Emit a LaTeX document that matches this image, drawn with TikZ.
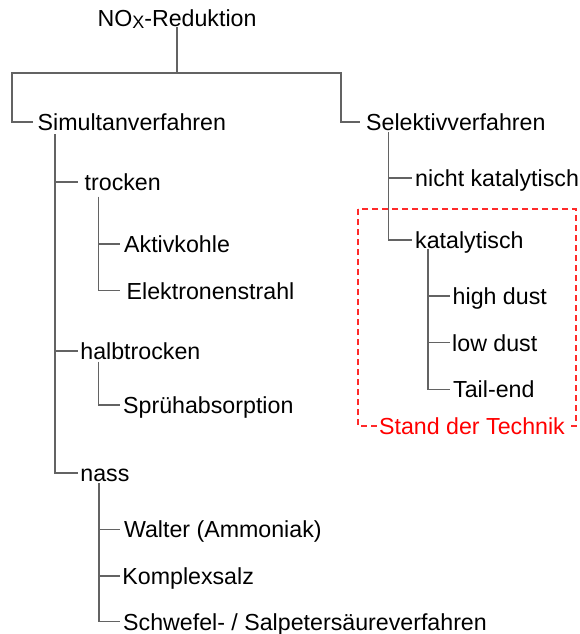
\documentclass[tikz,border=0pt]{standalone}
\usepackage{fontspec}
\setmainfont{Liberation Sans}
\begin{document}
\definecolor{linegray}{HTML}{636363}
\definecolor{boxred}{HTML}{FF2A2A}
\begin{tikzpicture}[x=1pt,y=-1pt,
  lbl/.style={anchor=west, inner ysep=0pt, inner xsep=3.5pt,
    text height=16.6pt, text depth=0pt,
    font=\fontsize{23.2pt}{28pt}\selectfont},
  branch/.style={draw=linegray, line width=1.25pt},
  redbox/.style={draw=boxred, line width=1.2pt, dash pattern=on 6pt off 4pt},
  redlbl/.style={lbl, anchor=center, text=red, fill=white, inner xsep=2.5pt}]
\useasboundingbox (0,0) rectangle (579,634);

% root
\node[lbl, anchor=center, inner xsep=0pt] (title) at (177,18.5)
  {NO\raisebox{-1.3pt}{\fontsize{18pt}{18pt}\selectfont X}-Reduktion};
\coordinate (jl) at (12,73);
\coordinate (jm) at (177,73);
\coordinate (jr) at (341,73);

% first level
\node[lbl, inner xsep=4.5pt] (sim) at (33,122) {Simultanverfahren};
\node[lbl, inner xsep=6pt] (sel) at (360,122) {Selektivverfahren};

% Simultanverfahren
\node[lbl, inner xsep=7pt] (troc) at (77.5,182) {trocken};
\node[lbl, inner xsep=4pt] (akt) at (120,244) {Aktivkohle};
\node[lbl, inner xsep=6.5pt] (elek) at (120,290.7) {Elektronenstrahl};
\node[lbl, inner xsep=2.7pt] (halb) at (77.5,351) {halbtrocken};
\node[lbl, inner xsep=3pt] (spr) at (120,405) {Sprühabsorption};
\node[lbl, inner xsep=2.2pt] (nass) at (78,473) {nass};
\node[lbl, inner xsep=3.8pt] (walt) at (120,529.3) {Walter (Ammoniak)};
\node[lbl, inner xsep=2.2pt] (komp) at (120,576) {Komplexsalz};
\node[lbl, inner xsep=3pt] (schw) at (120,621.7) {Schwefel- / Salpetersäureverfahren};

% Selektivverfahren
\node[lbl] (nk) at (411.5,178) {nicht katalytisch};
\node[lbl] (kat) at (411.5,240) {katalytisch};
\node[lbl, inner xsep=2.5pt] (hd) at (450,296) {high dust};
\node[lbl, inner xsep=2pt] (ld) at (450,342.7) {low dust};
\node[lbl, inner xsep=3pt] (te) at (450,389.3) {Tail-end};

% trunk tops
\coordinate (simt) at (55,134);
\coordinate (trot) at (98.5,196.7);
\coordinate (halt) at (98.5,361.7);
\coordinate (nast) at (99,483);
\coordinate (selt) at (388.5,132);
\coordinate (katt) at (428,249);

% connectors
\draw[branch] (title.south) -- (jm);
\draw[branch] (sim.west) -| (jl) -- (jr) |- (sel.west);

\draw[branch] (simt) |- (nass.west);
\draw[branch] (troc.west) -- (troc.west -| simt);
\draw[branch] (halb.west) -- (halb.west -| simt);

\draw[branch] (trot) |- (elek.west);
\draw[branch] (akt.west) -- (akt.west -| trot);
\draw[branch] (halt) |- (spr.west);
\draw[branch] (nast) |- (schw.west);
\draw[branch] (walt.west) -- (walt.west -| nast);
\draw[branch] (komp.west) -- (komp.west -| nast);

\draw[branch] (selt) |- (kat.west);
\draw[branch] (nk.west) -- (nk.west -| selt);
\draw[branch] (katt) |- (te.west);
\draw[branch] (hd.west) -- (hd.west -| katt);
\draw[branch] (ld.west) -- (ld.west -| katt);

% state of the art frame
\draw[redbox] (358,209) rectangle (576,426);
\node[redlbl] (sdt) at (472,426.5) {Stand der Technik};
\end{tikzpicture}
\end{document}
